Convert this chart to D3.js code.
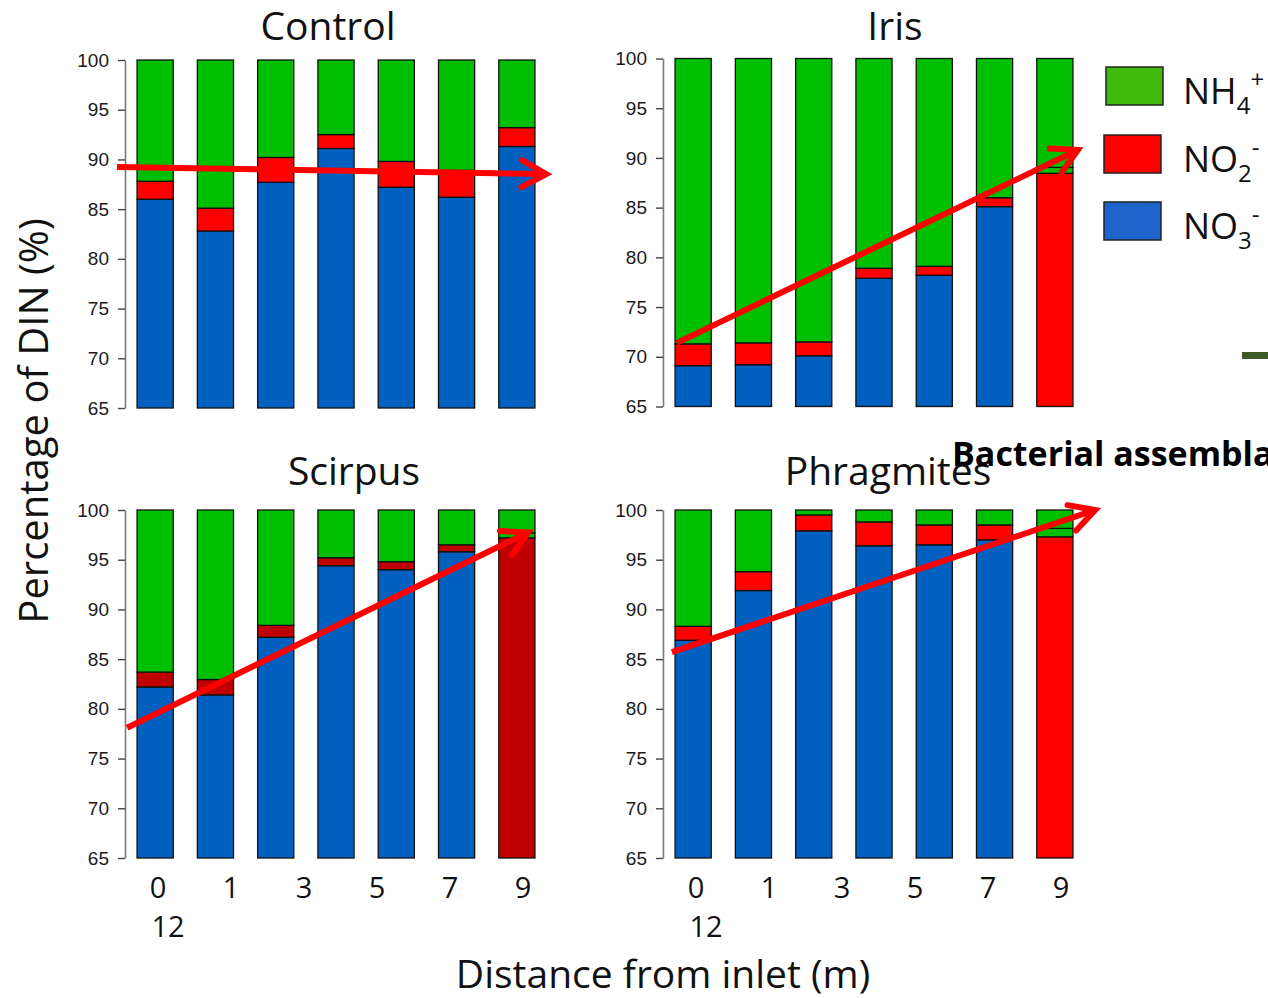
<!DOCTYPE html>
<html>
<head>
<meta charset="utf-8">
<script src="https://cdn.jsdelivr.net/npm/d3@7"></script>
<style>
  html, body { margin: 0; padding: 0; background: #fff; overflow: hidden; }
  svg { display: block; }
</style>
</head>
<body>
<svg id="chart" width="1268" height="998"></svg>
<script>
// Share of dissolved inorganic nitrogen (DIN) along each wetland cell
const distances = ["0", "1", "3", "5", "7", "9", "12"];
const panelNames = ["Control", "Iris", "Scirpus", "Phragmites"];
const yTicks = [65, 70, 75, 80, 85, 90, 95, 100];

// NO3- (%), one row per panel, one value per sampling point
const no3 = [
  [86.0, 82.8, 87.7, 91.1, 87.2, 86.2, 91.3],
  [69.1, 69.2, 70.1, 77.9, 78.2, 85.1, 88.45],
  [82.2, 81.4, 87.2, 94.4, 94.0, 95.8, 97.2],
  [86.9, 91.9, 97.9, 96.4, 96.5, 97.0, 97.3]
];
// NO2- (%)
const no2 = [
  [1.8, 2.3, 2.5, 1.4, 2.6, 2.7, 1.9],
  [2.2, 2.2, 1.4, 1.0, 0.9, 0.9, 0.6],
  [1.5, 1.55, 1.2, 0.8, 0.8, 0.7, 0.5],
  [1.4, 1.9, 1.6, 2.4, 2.0, 1.5, 0.85]
];
// NH4+ (%)
const nh4 = [
  [12.2, 14.9, 9.8, 7.5, 10.2, 11.1, 6.8],
  [28.7, 28.6, 28.5, 21.1, 20.9, 14.0, 10.95],
  [16.3, 17.05, 11.6, 4.8, 5.2, 3.5, 2.3],
  [11.7, 6.2, 0.5, 1.2, 1.5, 1.5, 1.85]
];
// Trend arrows: [start fraction along x, start %, end fraction along x, end %]
const trendArrows = [
  [-0.019, 89.24, 0.998, 88.53],
  [0.033, 71.4, 0.983, 90.8],
  [0.005, 78.1, 0.955, 97.75],
  [0.021, 85.7, 1.024, 100.65]
];

const seriesKeys = ["no3", "no2", "nh4"];
const colorNO3 = "#0060c0";
const colorNH4 = "#00bf00";
const colorNO2 = ["#ff0000", "#ff0000", "#c00000", "#ff0000"];
// fills used for the outlet column (12 m) of each panel
const outletFill = [
  null,
  ["#ff0000", colorNH4, colorNH4],
  ["#c00000", colorNH4, colorNH4],
  ["#ff0000", colorNH4, colorNH4]
];

const svg = d3.select("#chart");
const W = 422;
const layout = [
  { x0: 125, y0: 60, y1: 408, tx: 328, ty: 40 },
  { x0: 663, y0: 58.5, y1: 406.5, tx: 895, ty: 40 },
  { x0: 125, y0: 510, y1: 858, tx: 354, ty: 485 },
  { x0: 663, y0: 510, y1: 858, tx: 888, ty: 485 }
];

const tickFont = "'Liberation Sans', Arial, sans-serif";
const textFont = "'Open Sans', 'Noto Sans', sans-serif";

panelNames.forEach((name, p) => {
  const L = layout[p];
  const rows = distances.map((d, i) => ({ d, no3: no3[p][i], no2: no2[p][i], nh4: nh4[p][i] }));
  const stack = d3.stack().keys(seriesKeys)(rows);

  const x = d3.scaleBand().domain(distances).range([L.x0, L.x0 + W])
    .paddingInner(0.4).paddingOuter(0.2);
  const y = d3.scaleLinear().domain([65, 100]).range([L.y1, L.y0]).clamp(true);

  const g = svg.append("g");

  // stacked bars
  stack.forEach((layer, k) => {
    g.append("g").selectAll("rect").data(layer).join("rect")
      .attr("x", d => x(d.data.d))
      .attr("width", x.bandwidth())
      .attr("y", d => y(d[1]))
      .attr("height", d => y(d[0]) - y(d[1]))
      .attr("fill", (d, i) => {
        if (i === distances.length - 1 && outletFill[p]) return outletFill[p][k];
        return k === 0 ? colorNO3 : k === 1 ? colorNO2[p] : colorNH4;
      })
      .attr("stroke", "#111")
      .attr("stroke-width", 1.3);
  });

  // y axis
  const ax = g.append("g")
    .attr("transform", `translate(${L.x0},0)`)
    .call(d3.axisLeft(y).tickValues(yTicks).tickSize(7).tickPadding(9).tickSizeOuter(0));
  ax.select(".domain").attr("stroke", "#7a7a7a").attr("stroke-width", 1.6);
  ax.selectAll(".tick line").attr("stroke", "#444").attr("stroke-width", 1.4);
  ax.selectAll(".tick text")
    .attr("font-family", tickFont).attr("font-size", 19).attr("fill", "#1a1a1a");

  // panel title
  svg.append("text")
    .attr("x", L.tx).attr("y", L.ty)
    .attr("text-anchor", "middle")
    .attr("font-family", textFont).attr("font-size", 39).attr("fill", "#111")
    .text(name);

  // trend arrow
  const a = trendArrows[p];
  const xs = L.x0 + a[0] * W, ys = y(a[1]);
  const xe = L.x0 + a[2] * W, ye = y(a[3]);
  const ang = Math.atan2(ye - ys, xe - xs);
  const head = 28, spread = 0.5;
  const arrow = svg.append("g")
    .attr("stroke", "#ff0000").attr("stroke-width", 6)
    .attr("stroke-linecap", "round").attr("fill", "none");
  arrow.append("line").attr("x1", xs).attr("y1", ys).attr("x2", xe).attr("y2", ye)
    .attr("stroke-linecap", "butt");
  arrow.append("polyline").attr("stroke-linejoin", "miter")
    .attr("points", [
      [xe - head * Math.cos(ang - spread), ye - head * Math.sin(ang - spread)],
      [xe, ye],
      [xe - head * Math.cos(ang + spread), ye - head * Math.sin(ang + spread)]
    ].map(q => q.join(",")).join(" "));

  // distance labels under the bottom panels (the list wraps onto a second line)
  if (p >= 2) {
    const lx = d3.scaleLinear().domain([0, 5]).range([L.x0 + 33, L.x0 + 398]);
    svg.append("g").selectAll("text").data(distances).join("text")
      .attr("x", (d, i) => i < 6 ? lx(i) : L.x0 + 43)
      .attr("y", (d, i) => i < 6 ? 898 : 937)
      .attr("text-anchor", "middle")
      .attr("font-family", textFont).attr("font-size", 29).attr("fill", "#111")
      .text(d => d);
  }
});

// axis titles
svg.append("text")
  .attr("transform", "translate(48,421) rotate(-90)")
  .attr("text-anchor", "middle")
  .attr("font-family", textFont).attr("font-size", 40).attr("fill", "#111")
  .text("Percentage of DIN (%)");

svg.append("text")
  .attr("x", 663).attr("y", 988)
  .attr("text-anchor", "middle")
  .attr("font-family", textFont).attr("font-size", 39).attr("fill", "#111")
  .text("Distance from inlet (m)");

// legend
const legendItems = [
  { base: "NH", sub: "4", sup: "+", fill: "#3fba0a", x: 1106, y: 67 },
  { base: "NO", sub: "2", sup: "-", fill: "#ff0000", x: 1104, y: 135 },
  { base: "NO", sub: "3", sup: "-", fill: "#1f63cc", x: 1104, y: 202 }
];
const lg = svg.append("g");
legendItems.forEach(it => {
  lg.append("rect")
    .attr("x", it.x).attr("y", it.y).attr("width", 57).attr("height", 38)
    .attr("fill", it.fill).attr("stroke", "#222").attr("stroke-width", 1.5);
  const t = lg.append("text")
    .attr("x", 1183).attr("y", it.y + 37)
    .attr("font-family", textFont).attr("font-size", 36).attr("fill", "#111");
  t.append("tspan").text(it.base);
  t.append("tspan").attr("font-size", 24).attr("dy", 10).text(it.sub);
  t.append("tspan").attr("font-size", 24).attr("dy", -26).text(it.sup);
});

// overlapping slide elements at the right edge
svg.append("text")
  .attr("x", 952).attr("y", 466)
  .attr("font-family", textFont).attr("font-size", 34).attr("font-weight", "bold")
  .attr("fill", "#000")
  .text("Bacterial assemblage");

svg.append("rect")
  .attr("x", 1242).attr("y", 352).attr("width", 30).attr("height", 7)
  .attr("fill", "#3d5a27");
</script>
</body>
</html>
